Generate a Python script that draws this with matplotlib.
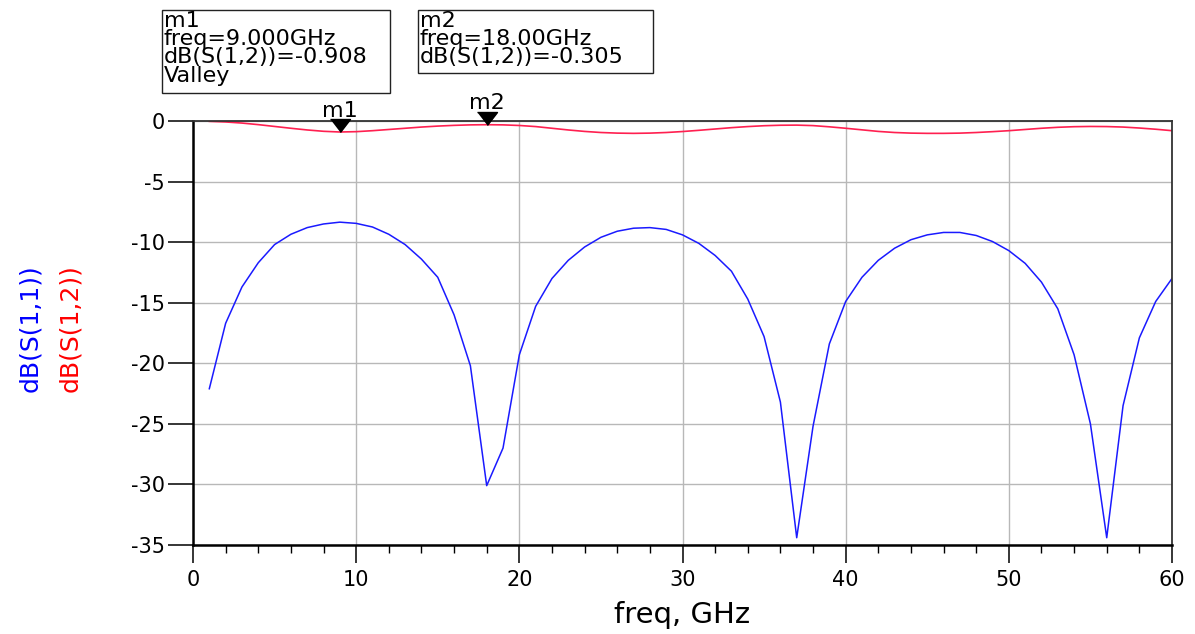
import numpy as np
import matplotlib

matplotlib.use("Agg")
import matplotlib.pyplot as plt
from matplotlib.patches import Rectangle

# S-parameter sweep, 1..60 GHz in 1 GHz steps
freq_ghz = list(range(1, 61))

s11_db = [
    -22.1, -16.7, -13.7, -11.7, -10.2, -9.35, -8.8, -8.5, -8.35, -8.45,
    -8.75, -9.35, -10.2, -11.4, -12.9, -16.0, -20.2, -30.1, -27.0, -19.3,
    -15.3, -13.0, -11.5, -10.4, -9.6, -9.1, -8.85, -8.8, -8.95, -9.4,
    -10.1, -11.1, -12.4, -14.7, -17.8, -23.2, -34.4, -25.2, -18.4, -14.9,
    -12.9, -11.5, -10.5, -9.8, -9.4, -9.2, -9.2, -9.45, -9.95, -10.7,
    -11.75, -13.3, -15.5, -19.3, -25.0, -34.4, -23.5, -17.9, -14.9, -13.0,
]

s12_db = [
    -0.03, -0.08, -0.17, -0.3, -0.45, -0.6, -0.74, -0.85, -0.908, -0.88,
    -0.8, -0.7, -0.6, -0.5, -0.42, -0.36, -0.32, -0.305, -0.32, -0.37,
    -0.46, -0.6, -0.74, -0.86, -0.95, -1.0, -1.02, -1.0, -0.95, -0.87,
    -0.77, -0.66, -0.55, -0.46, -0.39, -0.35, -0.34, -0.38, -0.48, -0.6,
    -0.73, -0.86, -0.95, -1.0, -1.02, -1.02, -1.0, -0.95, -0.88, -0.8,
    -0.7, -0.6, -0.52, -0.47, -0.45, -0.46, -0.5, -0.58, -0.68, -0.8,
]

markers = [
    ("m1", 9.0, -0.908, ["m1", "freq=9.000GHz", "dB(S(1,2))=-0.908", "Valley"]),
    ("m2", 18.0, -0.305, ["m2", "freq=18.00GHz", "dB(S(1,2))=-0.305"]),
]

x_ticks = [0, 10, 20, 30, 40, 50, 60]
y_ticks = [0, -5, -10, -15, -20, -25, -30, -35]

W, H = 1195, 634
plt.rcParams["font.family"] = ["DejaVu Sans"]

fig = plt.figure(figsize=(W / 100, H / 100), dpi=100)
ax = fig.add_axes([193 / W, 1 - 545 / H, (1172 - 193) / W, (545 - 121) / H])

ax.plot(freq_ghz, s11_db, color="#1a1aff", lw=1.1)
ax.plot(freq_ghz, s12_db, color="#ff2050", lw=1.2)

ax.set_xlim(0, 60)
ax.set_ylim(-35, 0)
ax.set_xticks(x_ticks)
ax.set_xticks(np.arange(0, 61, 2), minor=True)
ax.set_yticks(y_ticks)
ax.set_yticklabels([str(v) for v in y_ticks])
ax.grid(True, which="major", color="#b8b8b8", lw=1)
ax.set_axisbelow(True)

ax.tick_params(axis="y", which="major", direction="out", length=18, width=1.1,
               pad=2, labelsize=15)
ax.tick_params(axis="x", which="major", direction="out", length=13, width=1.1,
               pad=5, labelsize=15)
ax.tick_params(axis="x", which="minor", direction="out", length=6, width=1)
for side in ["left", "bottom"]:
    ax.spines[side].set_linewidth(1.8)
for side in ["top", "right"]:
    ax.spines[side].set_linewidth(1.3)
    ax.spines[side].set_color("#333333")

ax.set_xlabel("freq, GHz", fontsize=21, labelpad=8)

# y label: two coloured traces names
fig.text(30 / W, 1 - 328 / H, "dB(S(1,1))", rotation=90, color="#0000ff",
         fontsize=18, ha="center", va="center")
fig.text(70 / W, 1 - 328 / H, "dB(S(1,2))", rotation=90, color="#ff0000",
         fontsize=18, ha="center", va="center")

# marker triangles with tip on the data point
tri = [(-0.77, 1.0), (0.77, 1.0), (0.0, 0.0)]
for name, fx, fy, _ in markers:
    ax.plot([fx], [fy], marker=tri, ms=18.7, color="black", ls="none", clip_on=False, zorder=5)
    ax.annotate(name, (fx, fy), xytext=(0, 11), textcoords="offset points",
                ha="center", va="baseline", fontsize=16, annotation_clip=False)

# marker readout boxes
boxes = [(162, 10, 390, 93), (418, 10, 653, 73)]
baselines = [27, 45, 63, 82]
for (x0, y0, x1, y1), (_, _, _, lines) in zip(boxes, markers):
    fig.patches.append(Rectangle((x0 / W, 1 - y1 / H), (x1 - x0) / W, (y1 - y0) / H,
                                 transform=fig.transFigure, fill=False,
                                 edgecolor="#222222", lw=1))
    for line, yb in zip(lines, baselines):
        fig.text((x0 + 2) / W, 1 - yb / H, line, fontsize=16, ha="left", va="baseline")

fig.savefig("out.png", dpi=100)
